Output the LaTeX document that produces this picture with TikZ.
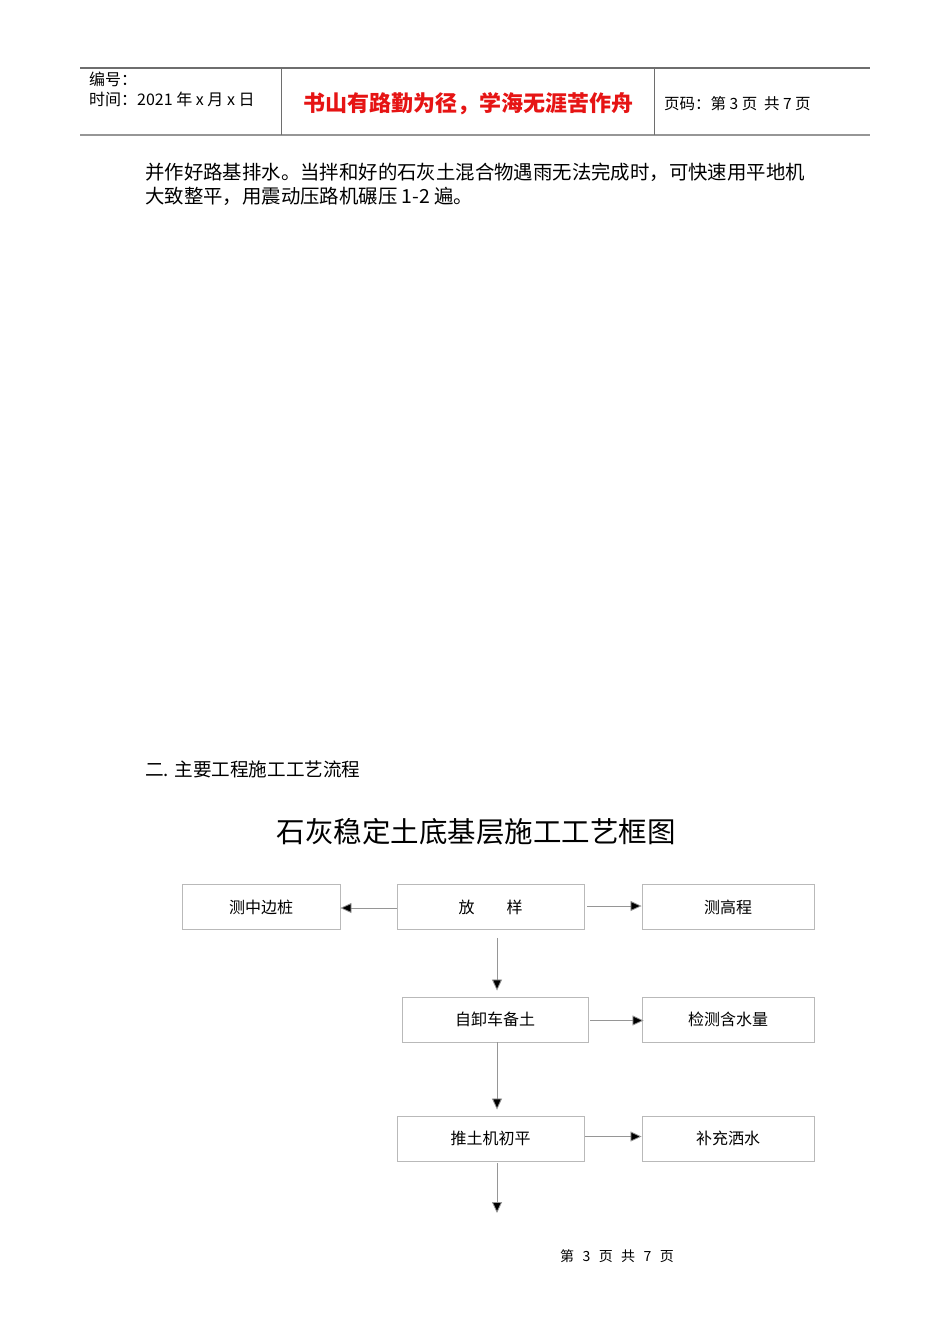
\documentclass[tikz,border=0pt]{standalone}
\usepackage{fontspec}
\setmainfont{Noto Sans CJK SC}
\usetikzlibrary{arrows.meta}
\definecolor{boxgray}{RGB}{185,185,185}
\definecolor{linegray}{RGB}{150,150,150}
\definecolor{rulegray}{RGB}{110,110,110}
\definecolor{mottored}{RGB}{230,20,20}
\tikzset{
  box/.style={draw=boxgray, line width=0.9pt, minimum height=45pt, inner sep=0pt, font=\fontsize{16}{16}\selectfont},
  conn/.style={draw=linegray, line width=0.8pt, -{Triangle[length=11pt,width=10pt,fill=black]}},
  txt/.style={inner sep=0pt, anchor=base west},
}
\begin{document}
\begin{tikzpicture}[x=1pt,y=-1pt]
\useasboundingbox[fill=white] (0,0) rectangle (950,1344);
% header
\draw[rulegray, line width=1.2pt] (80,68) -- (870,68);
\draw[linegray, line width=2pt] (80,135) -- (870,135);
\draw[rulegray, line width=1pt] (281,68) -- (281,135);
\draw[rulegray, line width=1pt] (654,68) -- (654,135);
\node[txt, font=\fontsize{16}{16}\selectfont] (h1) at (89,85) {编号：};
\node[txt, font=\fontsize{16}{16}\selectfont] (h2) at (89,105) {时间：2021 年 x 月 x 日};
\node[inner sep=0pt, anchor=base, text=mottored, font=\fontsize{22}{22}\bfseries\selectfont] (motto) at (468,111) {书山有路勤为径，学海无涯苦作舟};
\node[txt, font=\fontsize{15.5}{15.5}\selectfont] (h3) at (664,109) {页码：第 3 页 \ 共 7 页};
% body text
\node[txt, font=\fontsize{19.4}{19.4}\selectfont] (p1) at (145,179) {并作好路基排水。当拌和好的石灰土混合物遇雨无法完成时，可快速用平地机};
\node[txt, font=\fontsize{19.4}{19.4}\selectfont] (p2) at (145,203) {大致整平，用震动压路机碾压 1-2 遍。};
\node[txt, font=\fontsize{18.6}{18.6}\selectfont] (sec) at (145,776) {二. 主要工程施工工艺流程};
\node[inner sep=0pt, anchor=base, font=\fontsize{28.5}{28.5}\selectfont] (title) at (476,842) {石灰稳定土底基层施工工艺框图};
% boxes
\node[box, minimum width=158pt] (cz) at (261,907) {测中边桩};
\node[box, minimum width=187pt] (fy) at (490.5,907) {放\hspace{2em}样};
\node[box, minimum width=172pt] (gc) at (728,907) {测高程};
\node[box, minimum width=186pt] (zx) at (495,1019.5) {自卸车备土};
\node[box, minimum width=172pt] (hs) at (728,1019.5) {检测含水量};
\node[box, minimum width=187pt] (tt) at (490.5,1138.5) {推土机初平};
\node[box, minimum width=172pt] (bc) at (728,1138.5) {补充洒水};
\coordinate (endp) at (497,1213);
% connectors
\draw[conn] ([yshift=-1pt]fy.west) -- ([yshift=-1pt]cz.east);
\draw[conn, shorten <=3pt] ([yshift=1pt]fy.east) -- ([yshift=1pt]gc.west);
\draw[conn, shorten <=8pt, shorten >=6pt] ([xshift=6.5pt]fy.south) -- ([xshift=6.5pt]fy.south |- zx.north);
\draw[conn, shorten <=2pt, shorten >=-2pt] ([yshift=-1pt]zx.east) -- ([yshift=-1pt]hs.west);
\draw[conn, shorten >=6pt] ([xshift=2pt]zx.south) -- ([xshift=2pt]zx.south |- tt.north);
\draw[conn, shorten <=1pt] ([yshift=2pt]tt.east) -- ([yshift=2pt]bc.west);
\draw[conn, shorten <=2pt] (tt.south -| endp) -- (endp);
% footer
\node[inner sep=0pt, anchor=base, font=\fontsize{14}{14}\selectfont] (foot) at (617,1261) {第\hspace{0.6em}3\hspace{0.6em}页\hspace{0.6em}共\hspace{0.6em}7\hspace{0.6em}页};
\end{tikzpicture}
\end{document}
